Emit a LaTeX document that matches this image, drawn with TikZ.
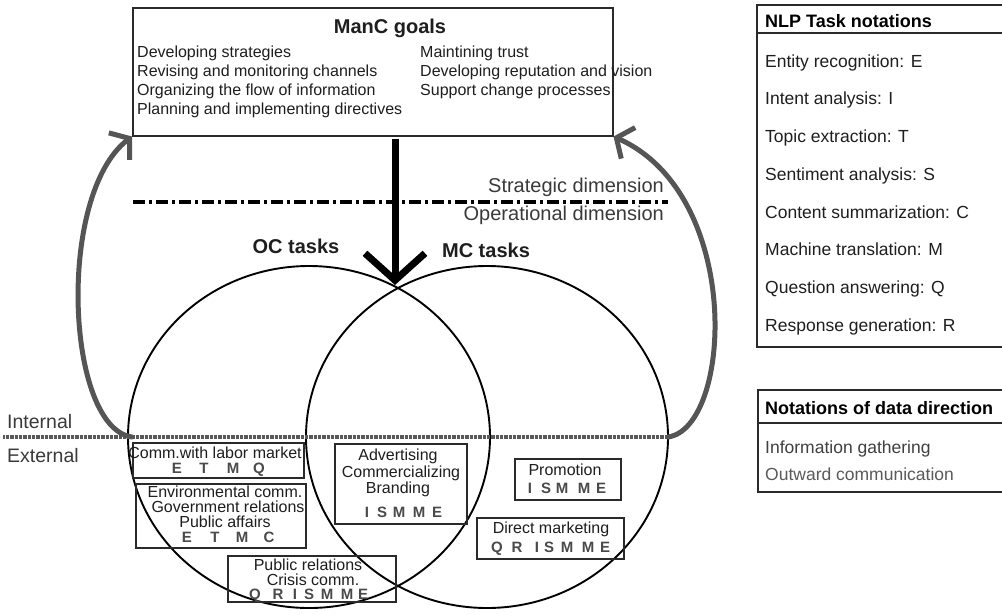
\documentclass[tikz,border=0pt]{standalone}
\usepackage{fontspec}
\setmainfont{Liberation Sans}
\usetikzlibrary{arrows.meta}
\newcommand\fsz[1]{\fontsize{#1}{#1}\selectfont}
\definecolor{txt}{HTML}{1E1E1E}
\definecolor{boxc}{HTML}{2A2A2A}
\definecolor{letc}{HTML}{4A4A4A}
\definecolor{garr}{HTML}{555555}
\definecolor{dimc}{HTML}{3A3A3A}
\definecolor{gathc}{HTML}{404040}
\definecolor{outc}{HTML}{5A5A5A}
\begin{document}
\begin{tikzpicture}[x=1pt,y=-1pt,
  box/.style={draw=boxc, line width=1.5pt, inner sep=0, anchor=north west},
  btxt/.style={anchor=base, inner sep=0, text=txt, font=\fsz{16}},
  gtxt/.style={anchor=base west, inner sep=0, text=txt, font=\fsz{16}},
  ltxt/.style={anchor=base west, inner sep=0, text=txt, font=\fsz{17.5}},
  lhead/.style={anchor=base west, inner sep=0, text=black, font=\bfseries\fsz{18}},
  lettr/.style={anchor=base, inner sep=0, text=letc, font=\bfseries\fsz{15}},
  garrow/.style={draw=garr, line width=5pt, line cap=round,
    -{Straight Barb[length=13pt,width=34pt]}},
]
\useasboundingbox (0,0) rectangle (1002,614);
\fill[white] (0,0) rectangle (1002,614);

% ---------- ManC goals ----------
\node[box, minimum width=480, minimum height=128] (goals) at (132,7) {};
\node[anchor=base, inner sep=0, font=\bfseries\fsz{20}, text=txt] (gtitle) at (390,33) {ManC goals};
\node[gtxt] (g1) at (137,57) {Developing strategies};
\node[gtxt] (g2) at (137,76) {Revising and monitoring channels};
\node[gtxt] (g3) at (137,95) {Organizing the flow of information};
\node[gtxt] (g4) at (137,114) {Planning and implementing directives};
\node[gtxt] (g5) at (420,57) {Maintining trust};
\node[gtxt] (g6) at (420,76) {Developing reputation and vision};
\node[gtxt] (g7) at (420,95) {Support change processes};

% ---------- dimension line ----------
\coordinate (dl) at (133,202);
\coordinate (dr) at (668,202);
\draw[line width=3.5pt, dash pattern=on 12pt off 4pt on 3pt off 4pt] (dl) -- (dr);
\node[anchor=base east, inner sep=0, font=\fsz{20}, text=dimc] (strat) at (664,192) {Strategic dimension};
\node[anchor=base east, inner sep=0, font=\fsz{20}, text=dimc] (oper) at (664,220) {Operational dimension};

% ---------- circles ----------
\draw[line width=1.9pt, black] (309,437) ellipse [x radius=181, y radius=171];
\draw[line width=1.9pt, black] (487,437) ellipse [x radius=181, y radius=171];
\node[anchor=base, inner sep=0, font=\bfseries\fsz{20}, text=txt] (oc) at (296,253) {OC tasks};
\node[anchor=base, inner sep=0, font=\bfseries\fsz{20}, text=txt] (mc) at (486,257) {MC tasks};

% ---------- internal / external ----------
\coordinate (il) at (3,437);
\coordinate (ir) at (668,437);
\draw[line width=4pt, draw=black!65, dash pattern=on 0.8pt off 0.5pt] (il) -- (ir);
\node[anchor=base west, inner sep=0, font=\fsz{19.5}, text=dimc] (int) at (7,428) {Internal};
\node[anchor=base west, inner sep=0, font=\fsz{19.5}, text=dimc] (ext) at (7,462) {External};

% ---------- arrows ----------
\coordinate (lstart) at (132,437);
\coordinate (rstart) at (668,437);
\draw[garrow] (lstart) .. controls (66,428) and (56,195) .. (goals.south west);
\draw[garrow] (rstart) .. controls (732,428) and (744,195) .. (goals.south east);
\coordinate (atop) at (395,139);
\coordinate (atip) at (395,285);
\draw[line width=7pt, black, -{Straight Barb[length=27pt,width=60pt]}] (atop) -- (atip);

% ---------- task boxes ----------
\node[box, minimum width=171, minimum height=35] (b1) at (132,442) {};
\node[btxt] (b1a) at (215,458) {Comm.with labor market};
\foreach \x/\l [count=\i] in {177/E,204/T,233/M,259/Q} \node[lettr] (b1l\i) at (\x,473) {\l};

\node[box, minimum width=170, minimum height=64] (b2) at (135,483) {};
\node[btxt] (b2a) at (225,497) {Environmental comm.};
\node[btxt] (b2b) at (228,512) {Government relations};
\node[btxt] (b2c) at (225,527) {Public affairs};
\foreach \x/\l [count=\i] in {187/E,215/T,242/M,269/C} \node[lettr] (b2l\i) at (\x,542) {\l};

\node[box, minimum width=168, minimum height=46] (b3) at (227,555) {};
\node[btxt] (b3a) at (308,570) {Public relations};
\node[btxt] (b3b) at (313,585) {Crisis comm.};
\foreach \x/\l [count=\i] in {255/Q,278/R,295/I,309/S,327/M,347/M,363/E} \node[lettr] (b3l\i) at (\x,599) {\l};

\node[box, minimum width=132, minimum height=80] (b4) at (334,443) {};
\node[btxt] (b4a) at (398,460) {Advertising};
\node[btxt] (b4b) at (401,477) {Commercializing};
\node[btxt] (b4c) at (398,493) {Branding};
\foreach \x/\l [count=\i] in {367/I,382/S,399/M,419/M,437/E} \node[lettr] (b4l\i) at (\x,517) {\l};

\node[box, minimum width=106, minimum height=41] (b5) at (514,458) {};
\node[btxt] (b5a) at (565,475) {Promotion};
\foreach \x/\l [count=\i] in {530/I,546/S,562/M,584/M,601/E} \node[lettr] (b5l\i) at (\x,493) {\l};

\node[box, minimum width=147, minimum height=41] (b6) at (476,517) {};
\node[btxt] (b6a) at (551,533) {Direct marketing};
\foreach \x/\l [count=\i] in {497/Q,517/R,537/I,549/S,567/M,588/M,605/E} \node[lettr] (b6l\i) at (\x,552) {\l};

% ---------- NLP legend ----------
\draw[draw=boxc, line width=1.6pt] (1004,5) -- (757,5) -- (757,347) -- (1004,347);
\draw[draw=boxc, line width=1.4pt] (757,33) -- (1004,33);
\node[lhead] (nh) at (765,27) {NLP Task notations};
\node[ltxt] (n1) at (765,67) {Entity recognition: E};
\node[ltxt] (n2) at (765,104) {Intent analysis: I};
\node[ltxt] (n3) at (765,142) {Topic extraction: T};
\node[ltxt] (n4) at (765,180) {Sentiment analysis: S};
\node[ltxt] (n5) at (765,218) {Content summarization: C};
\node[ltxt] (n6) at (765,255) {Machine translation: M};
\node[ltxt] (n7) at (765,293) {Question answering: Q};
\node[ltxt] (n8) at (765,331) {Response generation: R};

% ---------- data direction legend ----------
\draw[draw=boxc, line width=1.6pt] (1004,390) -- (758,390) -- (758,492) -- (1004,492);
\draw[draw=boxc, line width=1.4pt] (758,423) -- (1004,423);
\node[lhead] (dh) at (765,414) {Notations of data direction};
\node[ltxt, text=gathc] (d1) at (765,453) {Information gathering};
\node[ltxt, text=outc] (d2) at (765,480) {Outward communication};
\end{tikzpicture}
\end{document}
